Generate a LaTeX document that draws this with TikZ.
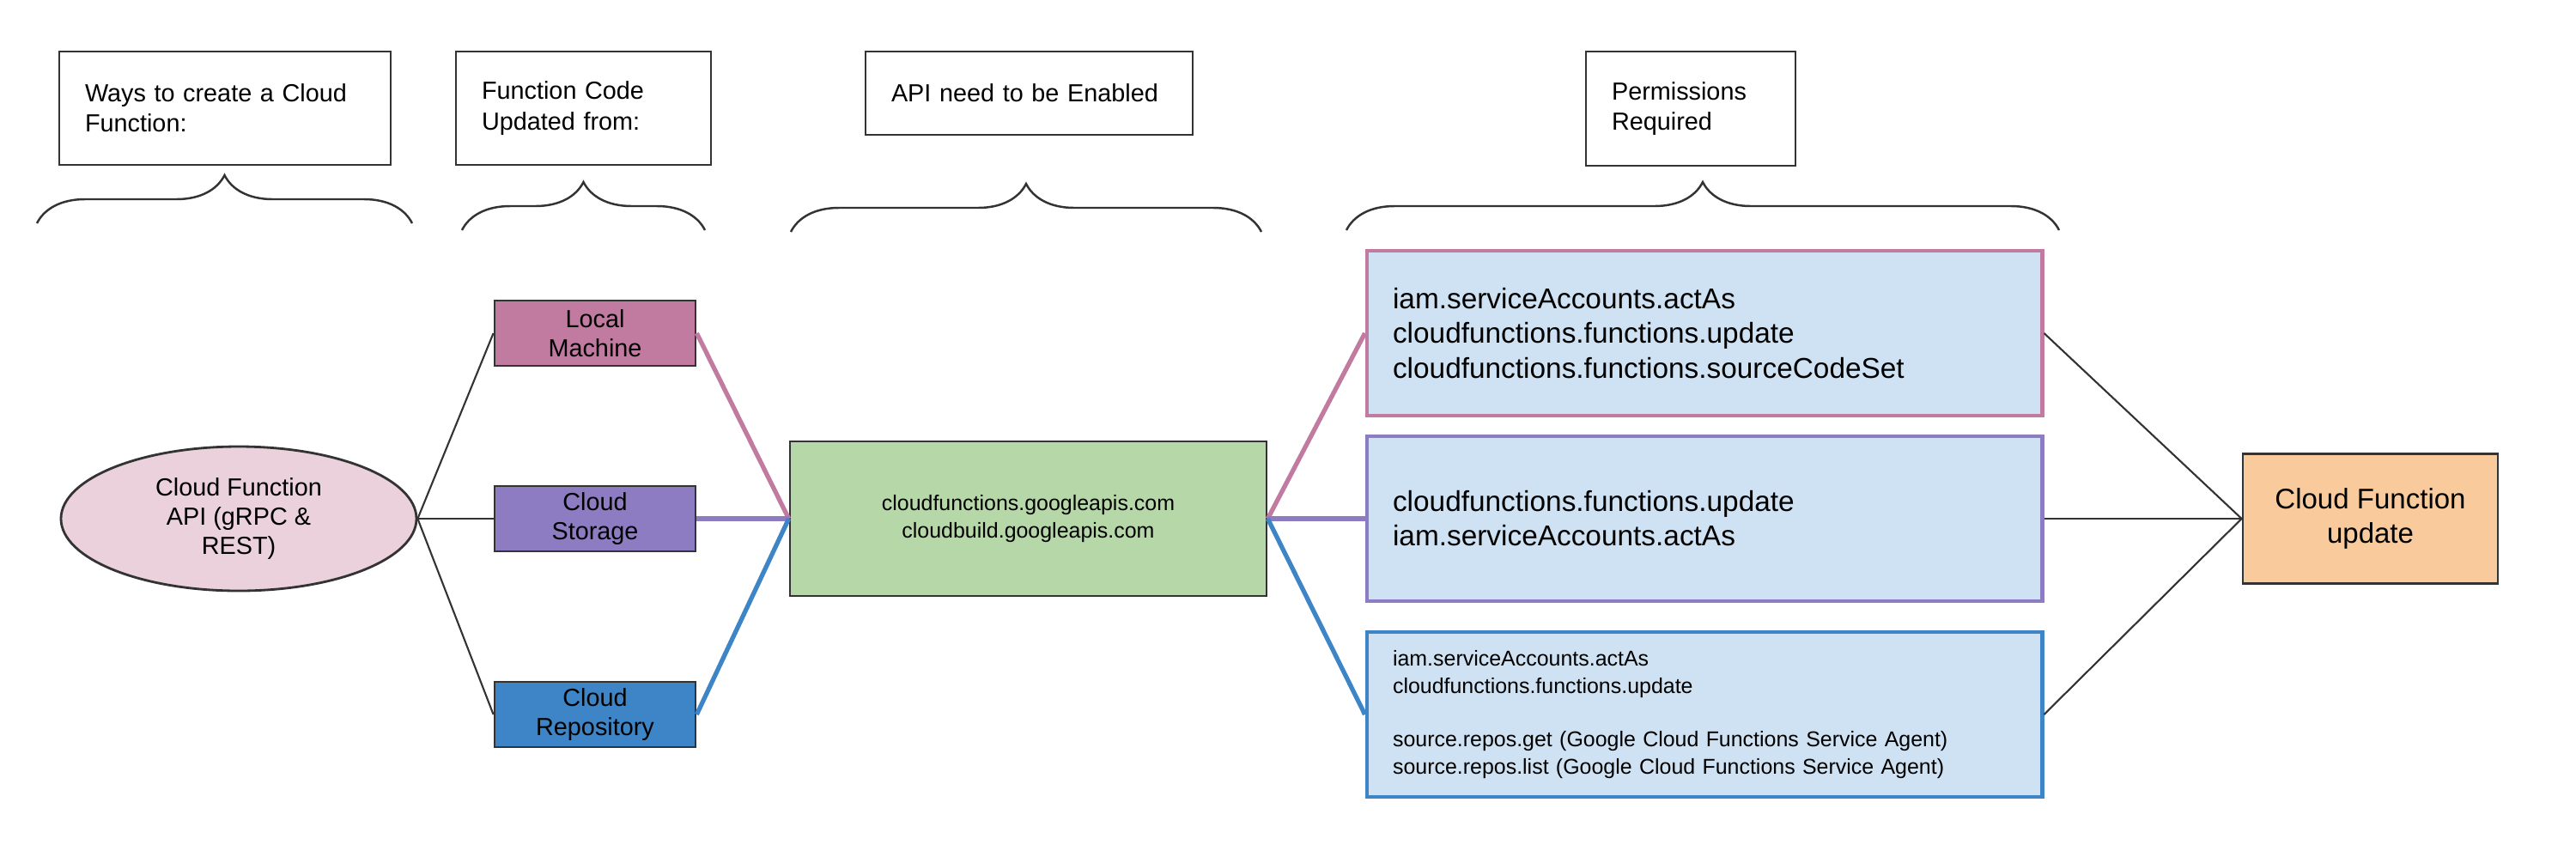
\documentclass[tikz,border=0pt]{standalone}
\usepackage{fontspec}
\setmainfont{Liberation Sans}
\usetikzlibrary{shapes.geometric,decorations.pathreplacing}

\definecolor{edgegray}{HTML}{333333}
\definecolor{magentafill}{HTML}{C27BA0}
\definecolor{purplefill}{HTML}{8E7CC3}
\definecolor{bluefill}{HTML}{3D85C6}
\definecolor{pinkfill}{HTML}{EAD1DC}
\definecolor{greenfill}{HTML}{B6D7A8}
\definecolor{skyfill}{HTML}{CFE2F3}
\definecolor{orangefill}{HTML}{F9CB9C}

\tikzset{
  hdr/.style={draw=edgegray, line width=0.75pt, align=left, inner xsep=0.3cm,
              font=\fontsize{8.2}{10}\selectfont},
  src/.style={draw=edgegray, line width=0.8pt, minimum width=2.34cm,
              minimum height=0.76cm, inner sep=0pt, align=center,
              font=\fontsize{8.2}{9.8}\selectfont},
  perm/.style={line width=1.4pt, fill=skyfill, minimum width=7.86cm,
               minimum height=1.92cm, text width=7.26cm, inner xsep=0.3cm,
               align=left},
  wire/.style={edgegray, line width=0.6pt},
  link/.style={line width=1.5pt},
  curly/.style={draw=edgegray, line width=0.7pt, decorate,
                decoration={brace, amplitude=0.56cm}}
}

\begin{document}
\begin{tikzpicture}
            \useasboundingbox (0,0) rectangle (30,9.83);

            % column headings
            \node[hdr, text width=3.26cm, minimum height=1.32cm] (ways) at (2.62,8.57)
                  {Ways to create a Cloud\\Function:};
            \node[hdr, text width=2.37cm, minimum height=1.32cm] (code) at (6.795,8.57)
                  {Function Code\\Updated from:};
            \node[hdr, text width=3.21cm, minimum height=0.97cm] (apis) at (11.985,8.745)
                  {API need to be Enabled};
            \node[hdr, text width=1.84cm, minimum height=1.33cm] (perms) at (19.69,8.565)
                  {Permissions\\Required};

            \draw[curly] (0.43,7.23) -- (4.80,7.23);
            \draw[curly] (5.38,7.15) -- (8.21,7.15);
            \draw[curly] (9.21,7.13) -- (14.69,7.13);
            \draw[curly] (15.68,7.15) -- (23.98,7.15);

            % sources
            \node[ellipse, draw=edgegray, line width=0.8pt, fill=pinkfill, minimum width=4.14cm,
                  minimum height=1.68cm, inner sep=0pt, align=center,
                  font=\fontsize{8.2}{9.8}\selectfont] (api) at (2.78,3.79)
                  {Cloud Function\\API (gRPC \&\\REST)};
            \node[src, fill=magentafill] (local) at (6.93,5.95) {Local\\Machine};
            \node[src, fill=purplefill] (storage) at (6.93,3.79) {Cloud\\Storage};
            \node[src, fill=bluefill] (repo) at (6.93,1.51) {Cloud\\Repository};

            \node[draw=edgegray, line width=0.8pt, fill=greenfill, minimum width=5.55cm,
                  minimum height=1.80cm, align=center,
                  font=\fontsize{7.1}{9.1}\selectfont] (enable) at (11.975,3.79)
                  {cloudfunctions.googleapis.com\\cloudbuild.googleapis.com};

            % permissions
            \node[perm, draw=magentafill, font=\fontsize{9.5}{11.4}\selectfont] (perm1) at (19.85,5.95)
                  {iam.serviceAccounts.actAs\\cloudfunctions.functions.update\\cloudfunctions.functions.sourceCodeSet};
            \node[perm, draw=purplefill, font=\fontsize{9.5}{11.4}\selectfont] (perm2) at (19.85,3.79)
                  {cloudfunctions.functions.update\\iam.serviceAccounts.actAs};
            \node[perm, draw=bluefill, font=\fontsize{7.1}{8.9}\selectfont] (perm3) at (19.85,1.51)
                  {iam.serviceAccounts.actAs\\cloudfunctions.functions.update\\[8.9pt]source.repos.get (Google Cloud Functions Service Agent)\\source.repos.list (Google Cloud Functions Service Agent)};

            \node[draw=edgegray, line width=0.8pt, fill=orangefill, minimum width=2.97cm,
                  minimum height=1.51cm, align=center,
                  font=\fontsize{9.4}{11.4}\selectfont] (result) at (27.605,3.79)
                  {Cloud Function\\update};

            % connectors
            \draw[wire] (api.east) -- (local.west);
            \draw[wire] (api.east) -- (storage.west);
            \draw[wire] (api.east) -- (repo.west);
            \draw[link, magentafill] (local.east) -- (enable.west);
            \draw[link, purplefill] (storage.east) -- (enable.west);
            \draw[link, bluefill] (repo.east) -- (enable.west);
            \draw[link, magentafill] (enable.east) -- (perm1.west);
            \draw[link, purplefill] (enable.east) -- (perm2.west);
            \draw[link, bluefill] (enable.east) -- (perm3.west);
            \draw[wire] (perm1.east) -- (result.west);
            \draw[wire] (perm2.east) -- (result.west);
            \draw[wire] (perm3.east) -- (result.west);
\end{tikzpicture}
\end{document}
